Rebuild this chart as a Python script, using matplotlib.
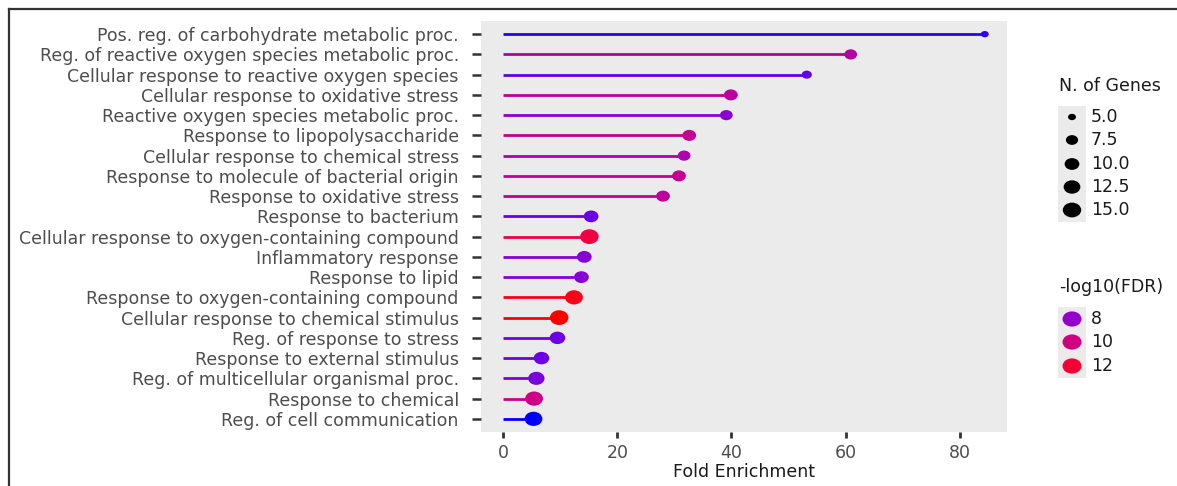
import numpy as np
import matplotlib
matplotlib.use("Agg")
import matplotlib.pyplot as plt
from matplotlib.path import Path
from matplotlib.lines import Line2D
from matplotlib.patches import Rectangle
from matplotlib.transforms import Affine2D

plt.rcParams['font.family'] = ['DejaVu Sans']

terms = [
    "Pos. reg. of carbohydrate metabolic proc.",
    "Reg. of reactive oxygen species metabolic proc.",
    "Cellular response to reactive oxygen species",
    "Cellular response to oxidative stress",
    "Reactive oxygen species metabolic proc.",
    "Response to lipopolysaccharide",
    "Cellular response to chemical stress",
    "Response to molecule of bacterial origin",
    "Response to oxidative stress",
    "Response to bacterium",
    "Cellular response to oxygen-containing compound",
    "Inflammatory response",
    "Response to lipid",
    "Response to oxygen-containing compound",
    "Cellular response to chemical stimulus",
    "Reg. of response to stress",
    "Response to external stimulus",
    "Reg. of multicellular organismal proc.",
    "Response to chemical",
    "Reg. of cell communication",
]
fold_enrichment = [84.4, 60.9, 53.2, 39.9, 39.1, 32.6, 31.7, 30.8, 28.0, 15.4,
                   15.1, 14.2, 13.7, 12.4, 9.8, 9.5, 6.7, 5.8, 5.4, 5.3]
n_genes = [5, 8, 6, 9, 8, 9, 8, 9, 9, 10, 15, 10, 10, 14, 15, 11, 11, 12, 14, 14]
neg_log10_fdr = [6.7, 9.0, 7.1, 9.2, 7.8, 9.5, 8.7, 9.5, 9.2, 7.2,
                 11.7, 7.7, 7.7, 12.6, 12.9, 7.3, 7.3, 7.5, 9.8, 6.6]
size_breaks = [5.0, 7.5, 10.0, 12.5, 15.0]
color_breaks = [8, 10, 12]
x_ticks = [0, 20, 40, 60, 80]

# ---- colour scale: blue -> red interpolated in CIE Lab (like ggplot) ----
M = np.array([[0.4124564, 0.3575761, 0.1804375],
              [0.2126729, 0.7151522, 0.0721750],
              [0.0193339, 0.1191920, 0.9503041]])
WHITE = np.array([0.95047, 1.0, 1.08883])

def srgb_to_lab(rgb):
    rgb = np.asarray(rgb, float)
    lin = np.where(rgb <= 0.04045, rgb / 12.92, ((rgb + 0.055) / 1.055) ** 2.4)
    xyz = M @ lin / WHITE
    f = np.where(xyz > (6/29)**3, np.cbrt(xyz), xyz / (3*(6/29)**2) + 4/29)
    return np.array([116*f[1] - 16, 500*(f[0]-f[1]), 200*(f[1]-f[2])])

def lab_to_srgb(lab):
    L, a, b = lab
    fy = (L + 16) / 116
    fx = fy + a / 500
    fz = fy - b / 200
    f = np.array([fx, fy, fz])
    xyz = np.where(f > 6/29, f**3, 3*(6/29)**2*(f - 4/29)) * WHITE
    lin = np.linalg.solve(M, xyz)
    lin = np.clip(lin, 0, 1)
    rgb = np.where(lin <= 0.0031308, 12.92*lin, 1.055*lin**(1/2.4) - 0.055)
    return np.clip(rgb, 0, 1)

LAB_LO = srgb_to_lab([0, 0, 1])
LAB_HI = srgb_to_lab([1, 0, 0])
c_lo, c_hi = min(neg_log10_fdr), max(neg_log10_fdr)

def col(v):
    t = (v - c_lo) / (c_hi - c_lo)
    return lab_to_srgb(LAB_LO + t*(LAB_HI - LAB_LO))

s_lo, s_hi = 4.5, 15.5
def diam_px(v):
    return 4 + 11*np.sqrt(np.clip((v - s_lo)/(s_hi - s_lo), 0, 1))

PX2PT = 72/100
ell = Path.unit_circle().transformed(Affine2D().scale(1.25, 1.0))

def marker_s(v):
    return (diam_px(v)*1.25*PX2PT)**2

FS = 12.5
W, H = 1177, 486
fig = plt.figure(figsize=(W/100, H/100), dpi=100)
fig.patch.set_facecolor('white')

L, R, T, B = 481, 1007, 21, 432
ax = fig.add_axes([L/W, 1 - B/H, (R-L)/W, (B-T)/H])
ax.set_facecolor('#EBEBEB')
for sp in ax.spines.values():
    sp.set_visible(False)

n = len(terms)
ypos = np.arange(n, 0, -1)
for yy, fe, fd in zip(ypos, fold_enrichment, neg_log10_fdr):
    ax.plot([0, fe], [yy, yy], color=col(fd), lw=2.0, solid_capstyle='butt', zorder=2)
ax.scatter(fold_enrichment, ypos, s=[marker_s(g) for g in n_genes],
           c=[col(v) for v in neg_log10_fdr], marker=ell, linewidths=0, zorder=3)

ax.set_xlim(-3.9, 88.3)
ax.set_ylim(0.35, n + 0.65)
ax.set_yticks(ypos)
ax.set_yticklabels(terms, fontsize=FS, color='#4D4D4D')
ax.set_xticks(x_ticks)
ax.set_xticklabels([str(v) for v in x_ticks], fontsize=FS, color='#4D4D4D')
ax.tick_params(axis='y', length=6.5, width=1.8, color='#333333', pad=9.5)
ax.tick_params(axis='x', length=4.5, width=2.0, color='#333333', pad=4)
ax.set_xlabel("Fold Enrichment", fontsize=FS, color='#1A1A1A', labelpad=1)

# ---- legends (drawn in a pixel-coordinate overlay) ----
lg = fig.add_axes([0, 0, 1, 1], facecolor='none')
lg.set_xlim(0, W)
lg.set_ylim(H, 0)
lg.axis('off')

lg.text(1059, 86, "N. of Genes", fontsize=FS, color='#1A1A1A', va='center', ha='left')
lg.add_patch(Rectangle((1058, 106), 28, 116, facecolor='#EBEBEB', edgecolor='none'))
key_y = [117, 140, 164, 187, 210]
lg.scatter([1072]*5, key_y, s=[marker_s(v) for v in size_breaks], c='black',
           marker=ell, linewidths=0)
for yy, v in zip(key_y, size_breaks):
    lg.text(1091, yy, f"{v:.1f}", fontsize=FS, color='#1A1A1A', va='center', ha='left')

lg.text(1059, 287, "-log10(FDR)", fontsize=FS, color='#1A1A1A', va='center', ha='left')
lg.add_patch(Rectangle((1058, 307), 28, 71, facecolor='#EBEBEB', edgecolor='none'))
ckey_y = [319, 342, 366]
lg.scatter([1072]*3, ckey_y, s=(19*PX2PT)**2, c=[col(v) for v in color_breaks],
           marker=ell, linewidths=0)
for yy, v in zip(ckey_y, color_breaks):
    lg.text(1091, yy, str(v), fontsize=FS, color='#1A1A1A', va='center', ha='left')

# frame lines (top and left) of the screenshot
lg.add_line(Line2D([9, W], [9, 9], color='#333333', lw=1.6))
lg.add_line(Line2D([9, 9], [9, H], color='#333333', lw=1.6))

fig.savefig("out.png", dpi=100, facecolor='white')
